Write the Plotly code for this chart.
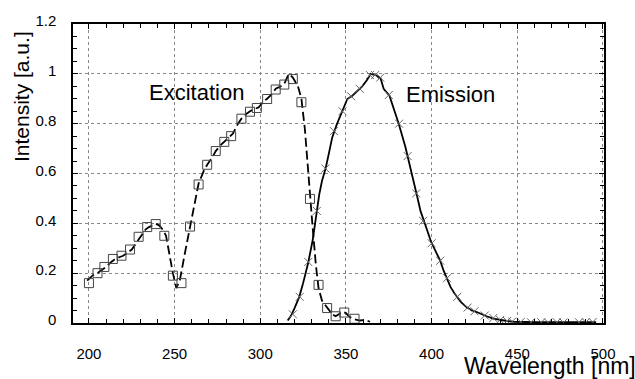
import plotly.graph_objects as go

# Excitation spectrum: dashed line (fine) and square markers
exc_line_x = [199, 202, 205, 207, 210, 213, 215, 218, 220, 223, 225, 228, 230, 233, 235, 237, 239, 241, 243, 245,
              247, 249, 251, 253, 256, 259, 262, 264, 267, 269, 272, 274, 277, 279, 282, 284, 287, 289, 292, 294,
              297, 299, 302, 304, 307, 309, 312, 314, 316, 317, 319, 322, 324, 326, 327.3, 328.5, 330.4, 332.4,
              334, 336, 339, 342, 344, 346, 348, 350, 352, 355, 358, 361, 364]
exc_line_y = [0.17, 0.19, 0.20, 0.21, 0.225, 0.245, 0.255, 0.265, 0.27, 0.285, 0.295, 0.325, 0.345, 0.375, 0.385,
              0.39, 0.398, 0.392, 0.375, 0.35, 0.27, 0.2, 0.14, 0.17, 0.28, 0.387, 0.5, 0.56, 0.61, 0.635, 0.665,
              0.69, 0.715, 0.727, 0.745, 0.76, 0.8, 0.82, 0.84, 0.85, 0.86, 0.865, 0.89, 0.9, 0.92, 0.94, 0.95,
              0.96, 0.99, 1.0, 0.985, 0.95, 0.90, 0.78, 0.667, 0.55, 0.397, 0.236, 0.14, 0.09, 0.06, 0.035, 0.027,
              0.035, 0.045, 0.04, 0.025, 0.015, 0.01, 0.012, 0.005]

exc_mark_x = [200, 205, 209, 214, 219, 224, 229, 234, 239, 244, 249, 254, 259, 264, 269, 274, 279, 283, 289, 294,
              298, 304, 309, 314, 319, 324, 329, 334, 339, 344, 349, 355]
exc_mark_y = [0.16, 0.20, 0.225, 0.257, 0.27, 0.295, 0.346, 0.385, 0.397, 0.35, 0.19, 0.16, 0.387, 0.556, 0.635,
              0.69, 0.727, 0.75, 0.82, 0.848, 0.863, 0.899, 0.937, 0.957, 0.979, 0.886, 0.498, 0.153, 0.06, 0.027,
              0.042, 0.017]

# Emission spectrum: solid line and x markers
em_line_x = [316, 318, 320, 322.7, 325, 328, 330.6, 332.7, 334.4, 336, 338.2, 340, 342, 344.6, 346, 348.8, 350.8,
             353.7, 356.6, 359.5, 362.4, 364.4, 367.3, 370.2, 372, 375.4, 377.9, 380.8, 384.7, 388.5, 391.5, 393.5,
             395.3, 397.5, 399.6, 402, 405, 407, 408.9, 411, 413.7, 417, 420.5, 423, 426.3, 429, 432.1, 436, 439.9,
             444, 447.7, 452, 460, 470, 480, 490, 496]
em_line_y = [0.01, 0.03, 0.06, 0.104, 0.16, 0.243, 0.333, 0.44, 0.515, 0.57, 0.622, 0.68, 0.745, 0.796, 0.82, 0.86,
             0.899, 0.912, 0.931, 0.95, 0.976, 1.0, 0.995, 0.982, 0.94, 0.912, 0.86, 0.80, 0.706, 0.603, 0.51, 0.45,
             0.41, 0.37, 0.327, 0.29, 0.25, 0.21, 0.179, 0.145, 0.115, 0.085, 0.063, 0.052, 0.044, 0.035, 0.027,
             0.018, 0.012, 0.008, 0.005, 0.004, 0.003, 0.003, 0.002, 0.003, 0.003]

em_mark_x = [319, 323, 328, 333, 338, 343, 348, 353, 358, 364, 367, 370, 375, 381, 386, 391, 395, 400, 405, 409,
             415, 421, 425, 431, 436, 440, 444, 447, 452, 458, 464, 468, 473, 477, 486, 490, 494]
em_mark_y = [0.035, 0.105, 0.245, 0.45, 0.62, 0.77, 0.85, 0.91, 0.94, 0.995, 0.995, 0.985, 0.915, 0.80, 0.67, 0.52,
             0.41, 0.32, 0.25, 0.18, 0.105, 0.062, 0.047, 0.03, 0.02, 0.012, 0.008, 0.006, 0.004, 0.003, 0.003,
             0.002, 0.003, 0.002, 0.003, 0.003, 0.004]

x_ticks = [200, 250, 300, 350, 400, 450, 500]
y_ticks = [0, 0.2, 0.4, 0.6, 0.8, 1.0, 1.2]
y_tick_labels = ["0", "0.2", "0.4", "0.6", "0.8", "1", "1.2"]

FONT = "Liberation Sans, Arial, sans-serif"

fig = go.Figure()
fig.add_trace(go.Scatter(x=exc_line_x, y=exc_line_y, mode="lines",
                         line=dict(color="black", width=1.8, dash="9px,4px"), hoverinfo="skip"))
fig.add_trace(go.Scatter(x=exc_mark_x, y=exc_mark_y, mode="markers",
                         marker=dict(symbol="square-open", size=9, color="#444", line=dict(width=1, color="#444"))))
fig.add_trace(go.Scatter(x=em_line_x, y=em_line_y, mode="lines",
                         line=dict(color="black", width=1.8)))
fig.add_trace(go.Scatter(x=em_mark_x, y=em_mark_y, mode="markers",
                         marker=dict(symbol="x-thin-open", size=8, color="#666", line=dict(width=1, color="#666"))))

axis_common = dict(showline=True, linecolor="black", linewidth=1.5, mirror="allticks",
                   ticks="inside", tickcolor="black", ticklen=5,
                   showgrid=True, gridcolor="#888", griddash="dot", gridwidth=1,
                   zeroline=False, tickfont=dict(family=FONT, size=15, color="black"))

fig.update_xaxes(range=[190.7, 500.6], tickvals=x_ticks, ticklabelstandoff=16,
                 minor=dict(dtick=10, ticks="inside", ticklen=4, tickcolor="black", showgrid=False),
                 **axis_common)
fig.update_yaxes(range=[0, 1.2], tickvals=y_ticks, ticktext=y_tick_labels, ticklabelstandoff=12,
                 ticklabelshift=-3,
                 minor=dict(dtick=0.05, ticks="inside", ticklen=4, tickcolor="black", showgrid=False),
                 **axis_common)

fig.add_annotation(x=263, y=0.926, xref="x", yref="y", text="Excitation", showarrow=False,
                   font=dict(family=FONT, size=22, color="black"))
fig.add_annotation(x=411, y=0.918, xref="x", yref="y", text="Emission", showarrow=False,
                   font=dict(family=FONT, size=22, color="black"))
fig.add_annotation(x=0.7326, y=-0.145, xref="paper", yref="paper", text="Wavelength [nm]", showarrow=False,
                   xanchor="left", yanchor="middle", font=dict(family=FONT, size=23, color="black"))
fig.add_annotation(x=-0.098, y=0.759, xref="paper", yref="paper", text="Intensity [a.u.]", showarrow=False,
                   textangle=-90, xanchor="center", yanchor="middle",
                   font=dict(family=FONT, size=21, color="black"))

fig.update_layout(width=635, height=379, margin=dict(l=73, r=31, t=12, b=56),
                  paper_bgcolor="white", plot_bgcolor="white", showlegend=False)

fig.write_html("out.html")
